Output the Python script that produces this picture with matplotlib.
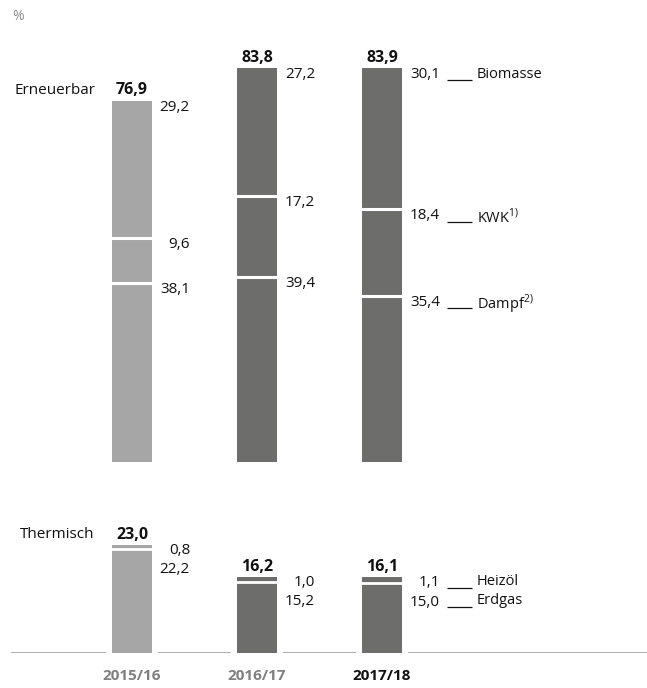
import matplotlib.pyplot as plt

plt.rcParams['font.family'] = ['Open Sans', 'DejaVu Sans']
plt.rcParams['mathtext.fontset'] = 'custom'
plt.rcParams['mathtext.rm'] = 'Open Sans'

# Anteile in %
jahre = ['2015/16', '2016/17', '2017/18']
dampf = [38.1, 39.4, 35.4]
kwk = [9.6, 17.2, 18.4]
biomasse = [29.2, 27.2, 30.1]
summe_erneuerbar = [76.9, 83.8, 83.9]
erdgas = [22.2, 15.2, 15.0]
heizoel = [0.8, 1.0, 1.1]
summe_thermisch = [23.0, 16.2, 16.1]

farben = ['#a6a6a6', '#6d6d6b', '#6d6d6b']
jahr_farben = ['#7f7f7f', '#7f7f7f', '#111111']

W, H = 647, 688
fig = plt.figure(figsize=(W / 100, H / 100), dpi=100)

# x in Kategorien, 125 px Abstand, erste Mitte bei 132 px
px = 125.0
x0 = 132.0
xlim = (-x0 / px, (W - x0) / px)
bw = 40 / px
scale = 4.7  # px pro %

def make_ax(base_px, top_val):
    h = top_val * scale
    ax = fig.add_axes([0, (H - base_px) / H, 1, h / H])
    ax.set_xlim(*xlim)
    ax.set_ylim(0, top_val)
    ax.axis('off')
    return ax

ax1 = make_ax(462, 90)
ax2 = make_ax(653, 30)

x = list(range(len(jahre)))
lab_dx = 58 / px
fs = 11
fs_sum = 11.5

def fmt(v):
    return f'{v:.1f}'.replace('.', ',')

def label_line(ax, xi, y, text, dtext, dline):
    # Verbindungslinie + Beschriftung rechts neben dem letzten Balken
    yl = y - dline / scale
    ax.plot([xi + 65 / px, xi + 90 / px], [yl, yl], color='#111111', lw=0.9,
            clip_on=False, solid_capstyle='butt')
    ax.text(xi + 95 / px, y - dtext / scale, text, fontsize=fs - 0.5,
            va='center', ha='left', color='#111111', clip_on=False)

# Erneuerbar
for i in x:
    segs = [dampf[i], kwk[i], biomasse[i]]
    bottom = 0
    for s in segs:
        ax1.bar(i, s, bottom=bottom, width=bw, color=farben[i], lw=0)
        bottom += s
    for b in [dampf[i], dampf[i] + kwk[i]]:
        ax1.hlines(b, i - bw / 2 - 0.01, i + bw / 2 + 0.01, color='white', lw=2.2)
    tops = [dampf[i], dampf[i] + kwk[i], summe_erneuerbar[i]]
    for s, t in zip(segs, tops):
        ax1.annotate(fmt(s), (i + lab_dx, t),
                     xytext=(0, 0.5), textcoords='offset points',
                     ha='right', va='top', fontsize=fs, color='#111111')
    ax1.annotate(fmt(summe_erneuerbar[i]),
                 (i, summe_erneuerbar[i]), xytext=(0, 1.5),
                 textcoords='offset points', ha='center', va='bottom',
                 fontsize=fs_sum, fontweight='bold', color='#111111')

ax1.text(-117 / px, summe_erneuerbar[0] + 0.5, 'Erneuerbar', fontsize=fs,
         va='bottom', ha='left', color='#111111')
ax1.text(-120 / px, 90 + 22 / scale, '%', fontsize=fs - 1, va='center',
         ha='left', color='#8c8c8c', clip_on=False)

# Legende am letzten Balken
i = 2
label_line(ax1, i, summe_erneuerbar[i], 'Biomasse', 7, 12.5)
label_line(ax1, i, dampf[i] + kwk[i], 'KWK$^{1)}$', 8.5, 12.5)
label_line(ax1, i, dampf[i], 'Dampf$^{2)}$', 9, 12)

# Thermisch
ax2.axhline(0, xmin=12 / W, xmax=1, color='#a0a0a0', lw=1.2, zorder=1)
for i in x:
    ax2.bar(i, 1.0, width=bw + 12 / px, color='white', lw=0, zorder=2)
    ax2.bar(i, erdgas[i], width=bw, color=farben[i], lw=0, zorder=3)
    ax2.bar(i, heizoel[i], bottom=erdgas[i], width=bw, color=farben[i], lw=0, zorder=3)
    ax2.hlines(erdgas[i], i - bw / 2 - 0.01, i + bw / 2 + 0.01, color='white',
               lw=2.0, zorder=4)
    ax2.annotate(fmt(heizoel[i]), (i + lab_dx, summe_thermisch[i]),
                 xytext=(0, 1.5), textcoords='offset points',
                 ha='right', va='top', fontsize=fs, color='#111111')
    ax2.annotate(fmt(erdgas[i]), (i + lab_dx, summe_thermisch[i]),
                 xytext=(0, -12.5), textcoords='offset points',
                 ha='right', va='top', fontsize=fs, color='#111111')
    ax2.annotate(fmt(summe_thermisch[i]),
                 (i, summe_thermisch[i]), xytext=(0, 1.5),
                 textcoords='offset points', ha='center', va='bottom',
                 fontsize=fs_sum, fontweight='bold', color='#111111')
    ax2.annotate(jahre[i], (i, 0), xytext=(0, -16.5), textcoords='offset points',
                 ha='center', va='center', fontsize=fs, fontweight='bold',
                 color=jahr_farben[i], annotation_clip=False)

ax2.text(-112 / px, summe_thermisch[0] + 0.6, 'Thermisch', fontsize=fs,
         va='bottom', ha='left', color='#111111')

i = 2
label_line(ax2, i, summe_thermisch[i], 'Heizöl', 4.5, 10.7)
label_line(ax2, i, summe_thermisch[i], 'Erdgas', 23.5, 29.7)

fig.savefig('out.png', dpi=100)
